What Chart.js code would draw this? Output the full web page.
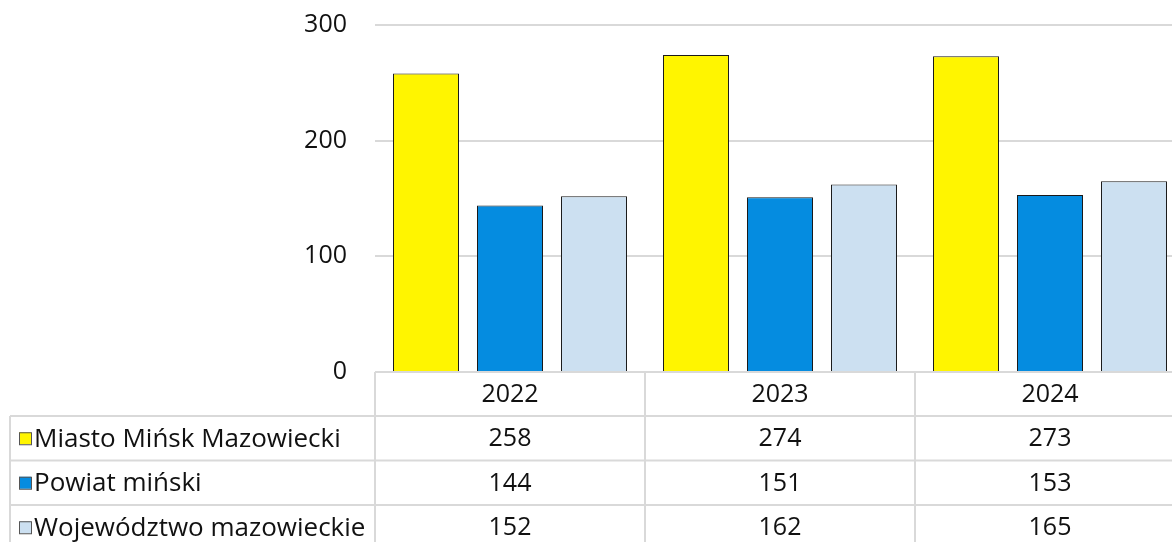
<!DOCTYPE html>
<html>
<head>
<meta charset="utf-8">
<script src="https://cdn.jsdelivr.net/npm/chart.js@4"></script>
<style>
html,body{margin:0;padding:0;background:#fff;}
#wrap{width:1172px;height:542px;overflow:hidden;position:relative;}
canvas{display:block;}
</style>
</head>
<body>
<div id="wrap"><canvas id="c" width="1186" height="542"></canvas></div>
<script>
// dane
const lata = ['2022','2023','2024']
const nazwy = ['Miasto Mińsk Mazowiecki','Powiat miński','Województwo mazowieckie']
const miasto = [258,274,273]
const powiat = [144,151,153]
const wojewodztwo = [152,162,165]
const kolory = ['#FFF500','#058CE0','#CCE0F1']
const yMin = 0, yMax = 300, yKrok = 100

const FONT = '"Open Sans", "Noto Sans", sans-serif'
const serie = [miasto, powiat, wojewodztwo]

// tabela danych pod wykresem
const tabela = {
id:'tabela',
afterDraw(chart){
const ctx = chart.ctx
const x = chart.scales.x
const area = chart.chartArea
const rowH = 44.5
const headH = 44
const left = 10
const right = chart.width
const szer = x.width / lata.length

ctx.save()
ctx.strokeStyle = '#d9d9d9'
ctx.lineWidth = 2

// linie poziome
ctx.beginPath()
ctx.moveTo(area.left, area.bottom)
ctx.lineTo(right, area.bottom)
for(let r=0;r<=nazwy.length;r++){
let y = area.bottom + headH + r*rowH
ctx.moveTo(left, y)
ctx.lineTo(right, y)
}
// linie pionowe
ctx.moveTo(left, area.bottom + headH)
ctx.lineTo(left, chart.height)
for(let i=0;i<=lata.length;i++){
let xx = area.left + i*szer
ctx.moveTo(xx, area.bottom)
ctx.lineTo(xx, chart.height)
}
ctx.stroke()

ctx.fillStyle = '#111'
ctx.font = '25px ' + FONT
ctx.textBaseline = 'middle'
ctx.textAlign = 'center'
lata.forEach((rok,i)=>{
ctx.fillText(rok, x.getPixelForValue(i), area.bottom + headH/2 + 1)
})

nazwy.forEach((n,r)=>{
let yc = area.bottom + headH + r*rowH + rowH/2 + 1
// znacznik legendy
ctx.fillStyle = kolory[r]
ctx.fillRect(19, yc-7, 12, 12)
ctx.strokeStyle = '#555'
ctx.lineWidth = 1
ctx.strokeRect(19.5, yc-6.5, 12, 12)
ctx.fillStyle = '#111'
ctx.textAlign = 'left'
ctx.font = '26px ' + FONT
ctx.fillText(n, 34, yc)
ctx.font = '25px ' + FONT
ctx.textAlign = 'center'
serie[r].forEach((v,i)=>{
ctx.fillText(String(v), x.getPixelForValue(i), yc)
})
})
ctx.restore()
}
}

new Chart(document.getElementById('c'),{
type:'bar',
data:{
labels:lata,
datasets: nazwy.map((n,i)=>({
label:n,
data:serie[i],
backgroundColor:kolory[i],
borderColor:'#1a1a1a',
borderWidth:1,
categoryPercentage:0.9333,
barPercentage:0.786
}))
},
options:{
responsive:false,
animation:false,
layout:{padding:{top:25,bottom:170,right:1,left:0}},
plugins:{legend:{display:false},tooltip:{enabled:false}},
scales:{
x:{display:false},
y:{
min:yMin,max:yMax,
afterFit(s){ s.width = 375; s.paddingTop = 0; s.paddingBottom = 0 },
border:{display:false},
grid:{color:'#d9d9d9',lineWidth:2,drawTicks:false},
ticks:{stepSize:yKrok,padding:28,color:'#111',font:{family:FONT,size:25}}
}
}
},
plugins:[tabela]
})
</script>
</body>
</html>
